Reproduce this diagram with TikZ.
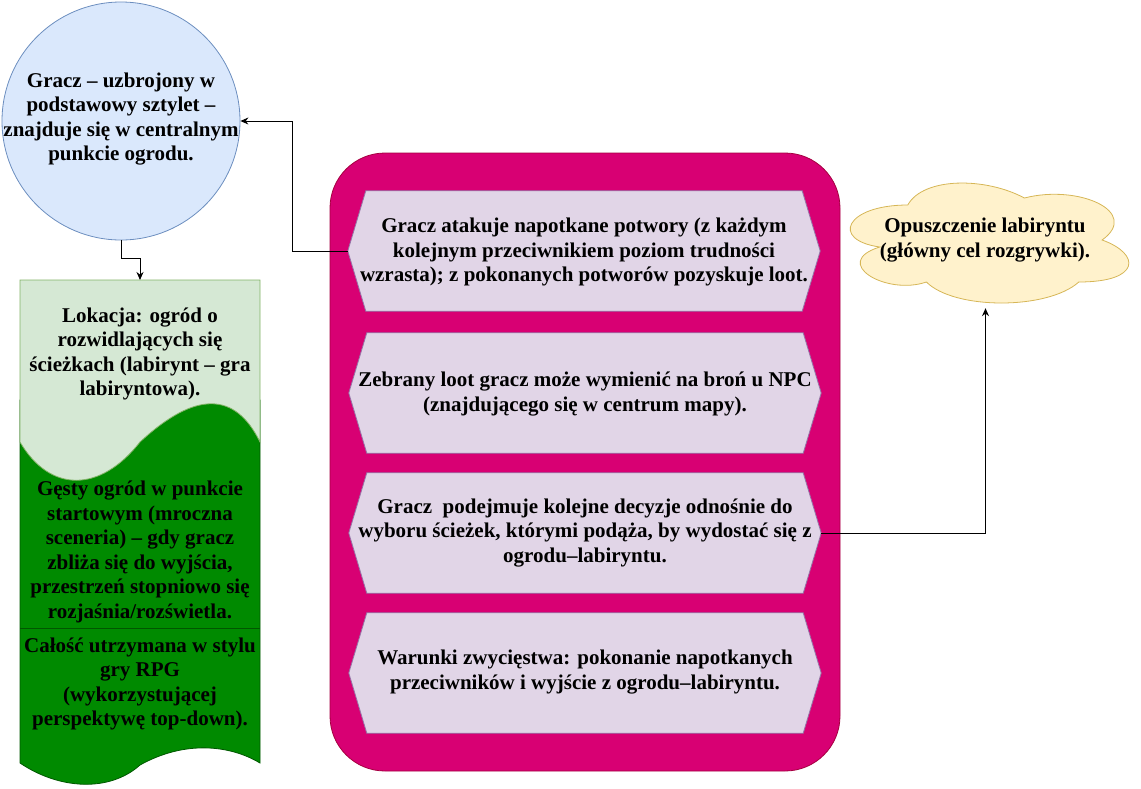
\documentclass[tikz,border=0pt]{standalone}
\usepackage{fontspec}
\setmainfont{Liberation Serif}
\usepackage{tikz}
\usetikzlibrary{arrows.meta}
\definecolor{circfill}{HTML}{DAE8FC}
\definecolor{circdraw}{HTML}{6C8EBF}
\definecolor{locfill}{HTML}{D5E8D4}
\definecolor{locdraw}{HTML}{82B366}
\definecolor{densefill}{HTML}{008A00}
\definecolor{densedraw}{HTML}{005700}
\definecolor{boardfill}{HTML}{D80073}
\definecolor{boarddraw}{HTML}{A50040}
\definecolor{hexfill}{HTML}{E1D5E7}
\definecolor{hexdraw}{HTML}{9673A6}
\definecolor{cloudfill}{HTML}{FFF2CC}
\definecolor{clouddraw}{HTML}{D6B656}
\tikzset{
	gametext/.style={font=\fontsize{21}{24.5}\selectfont\bfseries,align=center,text=black,inner sep=0pt},
	gamecircle/.style={circle,draw=circdraw,fill=circfill,minimum size=238pt,inner sep=0pt,line width=0.8pt},
	gameboard/.style={rectangle,draw=boarddraw,fill=boardfill,rounded corners=55pt,minimum width=510pt,minimum height=618pt,inner sep=0pt,line width=0.8pt},
	gamehex/.style={rectangle,minimum width=472pt,minimum height=120pt,inner sep=0pt},
	hexline/.style={draw=hexdraw,fill=hexfill,line width=0.8pt},
	gamecloud/.style={rectangle,minimum width=311pt,minimum height=140pt,inner sep=0pt},
	cloudline/.style={draw=clouddraw,fill=cloudfill,line width=0.8pt},
	gameedge/.style={draw=black,line width=1pt,-{Stealth[length=8pt,width=7pt]}}
}
\begin{document}
\begin{tikzpicture}[x=1pt,y=-1pt]
	\useasboundingbox (0,0) rectangle (1141,788);
	\node[gamecircle] (player) at (121,121) {};
	\node[gametext] (playertext) at (121,119) {Gracz – uzbrojony w\\podstawowy sztylet –\\znajduje się w centralnym\\punkcie ogrodu.};
	\draw[draw=densedraw,fill=densefill,line width=0.8pt] (20,400) -- (260,400) -- (260,763) .. controls (230,745) and (185,740) .. (140,765) .. controls (110,792) and (60,790) .. (20,763) -- cycle;
	\draw[draw=locdraw,fill=locfill,line width=0.8pt] (20,280) -- (260,280) -- (260,442) .. controls (235,391) and (195,391) .. (140,442) .. controls (100,493) and (50,493) .. (20,442) -- cycle;
	\draw[densedraw,line width=0.8pt] (20,628) -- (260,628);
	\coordinate (locationtop) at (140,280);
	\node[gametext] (locationtext) at (140,354) {Lokacja: ogród o\\rozwidlających się\\ścieżkach (labirynt – gra\\labiryntowa).};
	\node[gametext] (densetext) at (140,552) {Gęsty ogród w punkcie\\startowym (mroczna\\sceneria) – gdy gracz\\zbliża się do wyjścia,\\przestrzeń stopniowo się\\rozjaśnia/rozświetla.};
	\node[gametext] (styletext) at (140,684) {Całość utrzymana w stylu\\gry RPG\\(wykorzystującej\\perspektywę top-down).};
	\node[gameboard] (board) at (585,462) {};
	\node[gamehex] (hexA) at (584,251) {};
	\node[gamehex] (hexB) at (585,393) {};
	\node[gamehex] (hexC) at (585,533) {};
	\node[gamehex] (hexD) at (585,673) {};
	\foreach \h in {hexA,hexB,hexC,hexD}
		\draw[hexline] (\h.west) -- ([xshift=18pt]\h.north west) -- ([xshift=-18pt]\h.north east) -- (\h.east) -- ([xshift=-18pt]\h.south east) -- ([xshift=18pt]\h.south west) -- cycle;
	\node[gametext] (hexAtext) at (584,252) {Gracz atakuje napotkane potwory (z każdym\\kolejnym przeciwnikiem poziom trudności\\wzrasta); z pokonanych potworów pozyskuje loot.};
	\node[gametext] (hexBtext) at (585,394) {Zebrany loot gracz może wymienić na broń u NPC\\(znajdującego się w centrum mapy).};
	\node[gametext] (hexCtext) at (585,533) {Gracz\ \ podejmuje kolejne decyzje odnośnie do\\wyboru ścieżek, którymi podąża, by wydostać się z\\ogrodu–labiryntu.};
	\node[gametext] (hexDtext) at (585,672) {Warunki zwycięstwa: pokonanie napotkanych\\przeciwników i wyjście z ogrodu–labiryntu.};
	\node[gamecloud] (goal) at (985.5,240) {};
	\begin{scope}[shift={(830,170)},x=311pt,y=-140pt]
		\draw[cloudline] (0.25,0.25) .. controls (0.05,0.25) and (0,0.5) .. (0.16,0.55)
			.. controls (0,0.66) and (0.18,0.9) .. (0.31,0.8)
			.. controls (0.4,1) and (0.7,1) .. (0.8,0.8)
			.. controls (1,0.8) and (1,0.6) .. (0.875,0.5)
			.. controls (1,0.3) and (0.8,0.1) .. (0.625,0.2)
			.. controls (0.5,0.05) and (0.3,0.05) .. (0.25,0.25) -- cycle;
	\end{scope}
	\node[gametext] (goaltext) at (985,240) {Opuszczenie labiryntu\\(główny cel rozgrywki).};
	\draw[gameedge] (player.south) -- ++(0,18) -| (locationtop);
	\draw[gameedge] (hexA.west) -- ++(-55,0) |- (player.east);
	\draw[gameedge,shorten >=-2pt] (hexC.east) -| (goal.south);
\end{tikzpicture}
\end{document}
